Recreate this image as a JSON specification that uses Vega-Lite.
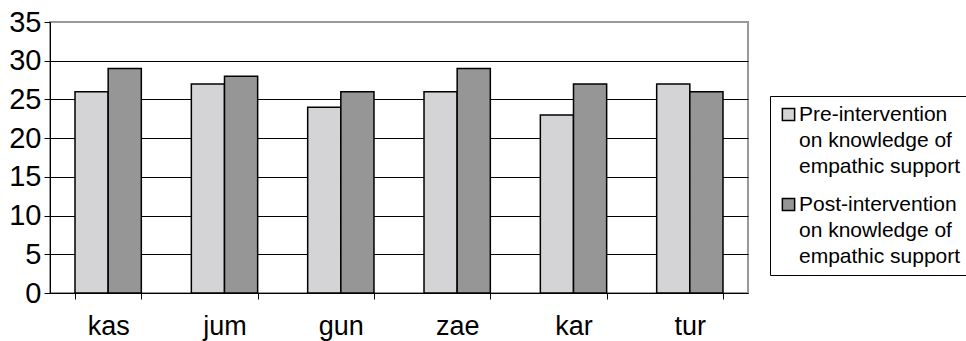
{
  "$schema": "https://vega.github.io/schema/vega-lite/v6.json",
  "width": 698,
  "height": 271,
  "autosize": "none",
  "padding": {"left": 50, "top": 22, "right": 218, "bottom": 48},
  "background": "white",
  "data": {
    "values": [
      {"site": "kas", "group": "Pre-intervention|on knowledge of|empathic support", "value": 26},
      {"site": "kas", "group": "Post-intervention|on knowledge of|empathic support", "value": 29},
      {"site": "jum", "group": "Pre-intervention|on knowledge of|empathic support", "value": 27},
      {"site": "jum", "group": "Post-intervention|on knowledge of|empathic support", "value": 28},
      {"site": "gun", "group": "Pre-intervention|on knowledge of|empathic support", "value": 24},
      {"site": "gun", "group": "Post-intervention|on knowledge of|empathic support", "value": 26},
      {"site": "zae", "group": "Pre-intervention|on knowledge of|empathic support", "value": 26},
      {"site": "zae", "group": "Post-intervention|on knowledge of|empathic support", "value": 29},
      {"site": "kar", "group": "Pre-intervention|on knowledge of|empathic support", "value": 23},
      {"site": "kar", "group": "Post-intervention|on knowledge of|empathic support", "value": 27},
      {"site": "tur", "group": "Pre-intervention|on knowledge of|empathic support", "value": 27},
      {"site": "tur", "group": "Post-intervention|on knowledge of|empathic support", "value": 26}
    ]
  },
  "mark": {"type": "bar", "stroke": "black", "strokeWidth": 1.5},
  "encoding": {
    "x": {
      "field": "site",
      "type": "nominal",
      "sort": ["kas", "jum", "gun", "zae", "kar", "tur"],
      "scale": {"paddingInner": 0.43, "paddingOuter": 0.215},
      "axis": {
        "title": null,
        "labelAngle": 0,
        "labelFontSize": 27,
        "labelPadding": 14,
        "labelColor": "black",
        "tickBand": "extent",
        "tickSize": 6,
        "tickColor": "black",
        "domainColor": "black",
        "grid": false
      }
    },
    "xOffset": {
      "field": "group",
      "sort": ["Pre-intervention|on knowledge of|empathic support", "Post-intervention|on knowledge of|empathic support"]
    },
    "y": {
      "field": "value",
      "type": "quantitative",
      "scale": {"domain": [0, 35], "nice": false},
      "axis": {
        "title": null,
        "values": [0, 5, 10, 15, 20, 25, 30, 35],
        "labelFontSize": 29,
        "labelPadding": 3,
        "labelColor": "black",
        "tickSize": 6,
        "tickColor": "black",
        "domainColor": "black",
        "grid": true,
        "gridColor": {"condition": {"test": "datum.value == 35", "value": "#999999"}, "value": "black"},
        "gridWidth": 1
      }
    },
    "color": {
      "field": "group",
      "type": "nominal",
      "scale": {
        "domain": ["Pre-intervention|on knowledge of|empathic support", "Post-intervention|on knowledge of|empathic support"],
        "range": ["#d4d4d6", "#969696"]
      },
      "legend": {
        "title": null,
        "orient": "none",
        "legendX": 720,
        "legendY": 74,
        "strokeColor": "black",
        "fillColor": "white",
        "padding": 8,
        "symbolType": "square",
        "symbolSize": 150,
        "symbolStrokeColor": "black",
        "symbolStrokeWidth": 1.5,
        "labelFontSize": 21,
        "labelColor": "black",
        "labelOffset": 0,
        "labelLimit": 400,
        "rowPadding": 16,
        "labelExpr": "split(datum.label, '|')"
      }
    }
  },
  "config": {
    "font": "Liberation Sans",
    "view": {"stroke": "#999999", "strokeWidth": 2},
    "style": {"guide-label": {"lineHeight": 26}}
  }
}
